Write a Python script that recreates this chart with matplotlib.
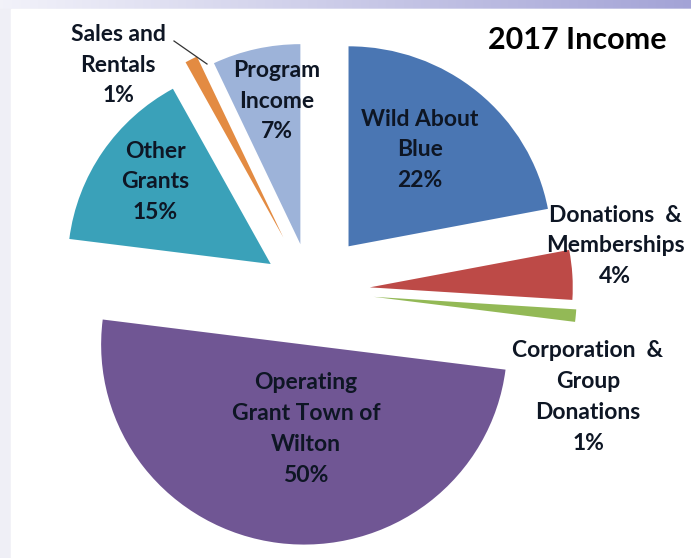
import matplotlib
matplotlib.use("Agg")
import matplotlib.pyplot as plt
import numpy as np
from matplotlib.patches import Rectangle

# ---- data ----
categories = ["Wild About\nBlue", "Donations  &\nMemberships", "Corporation  &\nGroup\nDonations",
              "Operating\nGrant Town of\nWilton", "Other\nGrants", "Sales and\nRentals", "Program\nIncome"]
values = [22, 4, 1, 50, 15, 1, 7]
title = "2017 Income"

colors = ["#4a76b3", "#bd4a47", "#93b956", "#705694", "#3aa1b9", "#e38b42", "#9db3d9"]
explode = [0.29, 0.29, 0.31, 0.27, 0.24, 0.30, 0.24]

W, H = 691, 558
CX, CY, RX, RY = 311, 291, 203, 200  # pixel center and radii

def px(x, y):
    return (x - CX) / RX, (CY - y) / RY

fig = plt.figure(figsize=(W / 100, H / 100), dpi=100)

# background frame
bg = fig.add_axes([0, 0, 1, 1])
grad = np.linspace(0, 1, 256)
c0 = np.array([0.95, 0.95, 0.98])
c1 = np.array([0.64, 0.64, 0.84])
img = c0[None, None, :] * (1 - grad[None, :, None]) + c1[None, None, :] * grad[None, :, None]
bg.imshow(img, extent=[0, 1, 0, 1], aspect="auto", zorder=0)
bg.add_patch(Rectangle((0, 0), 1, 1 - 9 / H, color="#efeff6", zorder=1))
bg.add_patch(Rectangle((11 / W, 0), 1, 1 - 9 / H, color="white", zorder=2))
bg.set_xlim(0, 1)
bg.set_ylim(0, 1)
bg.axis("off")

ax = fig.add_axes([0, 0, 1, 1])
ax.patch.set_alpha(0)
ax.pie(values, colors=colors, startangle=90, counterclock=False, explode=explode,
       radius=1, wedgeprops=dict(linewidth=0))
ax.set_aspect("auto")
ax.set_xlim(-CX / RX, (W - CX) / RX)
ax.set_ylim(-(H - CY) / RY, CY / RY)
ax.axis("off")

fam = ["Lato", "DejaVu Sans"]
tc = "#0e1624"
fs = 16.5

label_pos = [(420, 150), (615, 246), (588, 397), (306, 429), (155, 182), (118, 65), (277, 101)]
for name, v, (x, y) in zip(categories, values, label_pos):
    xd, yd = px(x, y)
    ax.text(xd, yd, f"{name}\n{v}%", ha="center", va="center", fontsize=fs,
            fontweight="bold", family=fam, color=tc, linespacing=1.57)

# leader line for Sales and Rentals
x0, y0 = px(174, 41)
x1, y1 = px(207, 64)
ax.plot([x0, x1], [y0, y1], color="#333333", lw=0.9)

tx, ty = px(577, 40)
ax.text(tx, ty, title, ha="center", va="center", fontsize=22, fontweight="bold",
        family=fam, color="black")

fig.savefig("out.png", dpi=100)
